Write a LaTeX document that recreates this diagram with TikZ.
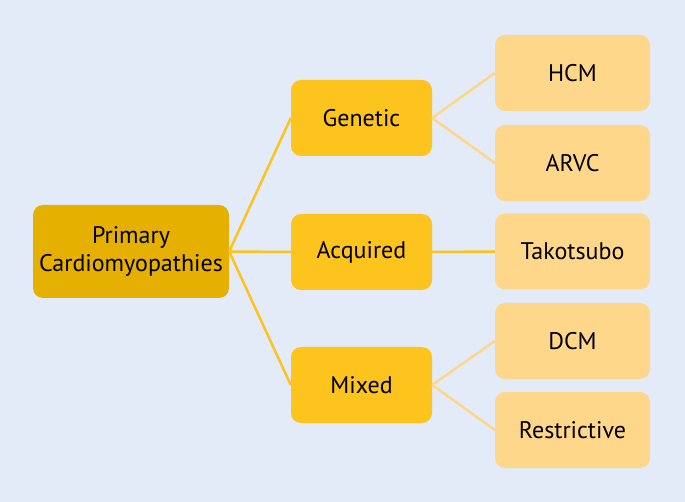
\documentclass[tikz,border=0pt]{standalone}
\usepackage{fontspec}
\setmainfont{PT Sans}
\definecolor{bg}{HTML}{E3EAF8}
\definecolor{rootc}{HTML}{E6B000}
\definecolor{midc}{HTML}{FCC41C}
\definecolor{leafc}{HTML}{FFD78A}
\tikzset{
  box/.style={rounded corners=10pt, minimum width=#1, inner sep=0pt, align=center, font=\fontsize{24}{28}\selectfont, text=black},
  rootbox/.style={box=196pt, minimum height=93pt, fill=rootc},
  midbox/.style={box=141pt, minimum height=76pt, fill=midc},
  leafbox/.style={box=155pt, minimum height=76pt, fill=leafc},
  darkline/.style={draw=midc, line width=2.5pt},
  lightline/.style={draw=leafc, line width=2.5pt}
}
\begin{document}
\begin{tikzpicture}[x=1pt,y=-1pt]
\fill[bg] (0,0) rectangle (685,502);
\useasboundingbox (0,0) rectangle (685,502);
\node[rootbox] (root) at (131,251.5) {Primary\\Cardiomyopathies};
\node[midbox] (gen) at (361.5,118) {Genetic};
\node[midbox] (acq) at (361.5,252) {Acquired};
\node[midbox] (mix) at (361.5,385) {Mixed};
\node[leafbox] (hcm) at (572.5,73) {HCM};
\node[leafbox] (arvc) at (572.5,163) {ARVC};
\node[leafbox] (tako) at (572.5,251.5) {Takotsubo};
\node[leafbox] (dcm) at (572.5,341) {DCM};
\node[leafbox] (res) at (572.5,430) {Restrictive};
\draw[darkline] (root.east) -- (gen.west);
\draw[darkline] (root.east) -- (acq.west);
\draw[darkline] (root.east) -- (mix.west);
\draw[lightline] (gen.east) -- (hcm.west);
\draw[lightline] (gen.east) -- (arvc.west);
\draw[darkline] (acq.east) -- (tako.west);
\draw[lightline] (mix.east) -- (dcm.west);
\draw[lightline] (mix.east) -- (res.west);
\end{tikzpicture}
\end{document}
